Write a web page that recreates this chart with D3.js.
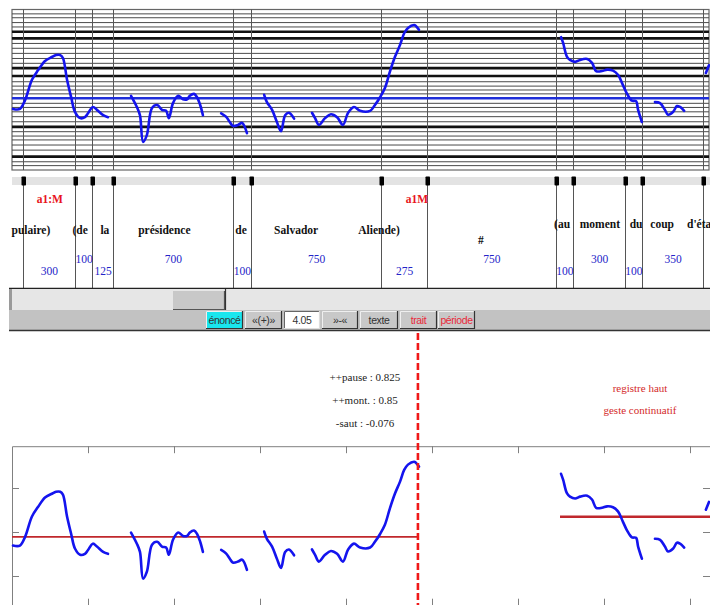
<!DOCTYPE html>
<html>
<head>
<meta charset="utf-8">
<script src="https://cdn.jsdelivr.net/npm/d3@7"></script>
<style>
  html, body { margin: 0; padding: 0; background: #fff; }
  svg { display: block; }
</style>
</head>
<body>
<svg id="chart" width="710" height="605"></svg>
<script>
// ---- data: time in ms from window start, pitch in semitones ----
const timeDomain = [0, 2029];
const pitchDomain = [-15.4, 17.7];

// word boundaries (ms)
const boundaries = [32, 183, 233, 294, 642, 695, 1073, 1206, 1581, 1631, 1782, 1831, 2009];
// durations written between consecutive boundaries
const durations = [300, 100, 125, 700, 100, 750, 275, 750, 100, 300, 100, 350];

// words and their centre times (ms)
const words = ["pulaire)", "(de", "la", "présidence", "de", "Salvador", "Aliende)", "#", "(au", "moment", "du", "coup", "d'état"];
const wordTimes = [55, 198, 270, 443, 666, 826, 1067, 1363, 1599, 1709, 1814, 1890, 2003];

// accent tier labels
const tierLabels = ["a1:M", "a1M"];
const tierTimes = [110, 1177];

// staff lines (semitones) and the heavier ones
const staffLines = [16.8, 16.0, 15.0, 14.1, 13.1, 11.75, 10.7, 9.7, 8.65, 7.6, 6.6, 5.6, 4.0, 2.8, 1.9, 1.1, 0.3,
                    -1.65, -2.5, -3.4, -4.4, -5.45, -6.5, -7.5, -8.4, -9.2, -10.25, -11.3, -12.65, -13.7, -14.5];
const staffThick = [13.1, 11.75, 5.6, 4.0, -6.5, -12.65];
const meanPitch = -0.6;

// pitch contour, one array per voiced stretch: [ms, semitones]
const pitchSegments = [
  [[3,-2.8],[23,-2.8],[38,-1.0],[58,3.2],[76,5.2],[96,7.1],[116,7.9],[128,8.3],[140,8.3],[148,7.7],
   [160,3.2],[172,-0.4],[183,-3.4],[198,-4.7],[212,-4.5],[221,-3.7],[235,-2.4],[247,-3.0],[265,-4.1],[279,-4.5]],
  [[346,-0.1],[363,-2.4],[372,-4.1],[381,-9.6],[392,-8.2],[407,-2.6],[422,-2.0],[436,-3.0],[448,-3.2],
   [456,-4.7],[468,-1.6],[483,-0.1],[497,-0.8],[509,-0.8],[517,-0.1],[529,0.3],[538,-0.4],[547,-2.0],[555,-4.1]],
  [[608,-3.7],[622,-4.4],[634,-5.6],[642,-6.3],[657,-6.1],[669,-5.7],[683,-7.8]],
  [[733,0.1],[741,-1.4],[756,-3.0],[770,-5.5],[782,-7.4],[794,-4.1],[805,-3.6],[820,-4.8]],
  [[872,-3.6],[881,-4.7],[892,-6.1],[910,-4.7],[927,-3.9],[945,-4.5],[962,-6.1],[977,-3.6],[994,-2.4],
   [1012,-3.2],[1041,-3.2],[1055,-2.0],[1070,-0.4],[1084,1.5],[1099,5.0],[1113,7.9],[1128,10.4],
   [1140,12.8],[1151,13.9],[1169,14.5],[1174,14.3],[1183,13.5]],
  [[1596,12.0],[1602,10.8],[1613,8.0],[1622,7.3],[1637,6.9],[1651,7.3],[1672,7.5],[1686,6.7],[1698,5.0],
   [1715,5.0],[1730,5.3],[1747,5.1],[1762,4.2],[1776,2.1],[1788,0.3],[1802,-1.1],[1814,-1.2],[1820,-3.0],[1831,-5.5]],
  [[1869,-1.4],[1884,-1.6],[1898,-3.0],[1907,-4.0],[1922,-3.4],[1933,-2.2],[1942,-2.4],[1954,-3.2]],
  [[2017,4.6],[2026,6.2]]
];

// register levels per phrase
const registerLevels = [-1.0, 3.15];
const registerSpans = [[0, 1180], [1593, 2029]];
const cursorTime = 1180;

// axis ticks of the lower panel
const timeTicks = [220, 470, 720, 970, 1220, 1470, 1720, 1970];
const pitchTicks = [-9, 0, 9];

// annotations
const measures = ["++pause : 0.825", "++mont. :  0.85", "-saut : -0.076"];
const comments = ["registre haut", "geste continuatif"];

// toolbar
const toolButtons = ["énoncé", "«(+)»", "4.05", "»-«", "texte", "trait", "période"];

// ---- drawing ----
const svg = d3.select("#chart");

const x = d3.scaleLinear().domain(timeDomain).range([12, 710]);
const yTop = d3.scaleLinear().domain(pitchDomain).range([170, 9.5]);
const yBot = d3.scaleLinear().domain(pitchDomain).range([606.7, 446.2]);

const serif = "'Liberation Serif', 'Times New Roman', serif";
const sans = "'Liberation Sans', Arial, sans-serif";

// ===== upper panel: pitch on a staff =====
const staffPanel = svg.append("g");
staffPanel.append("rect").attr("x", 12).attr("y", yTop(pitchDomain[1])).attr("width", 697)
  .attr("height", yTop(pitchDomain[0]) - yTop(pitchDomain[1]))
  .attr("fill", "#fff").attr("stroke", "#666").attr("stroke-width", 1.2);

staffPanel.selectAll("line.staff").data(staffLines).join("line")
  .attr("x1", 12).attr("x2", 709)
  .attr("y1", d => yTop(d)).attr("y2", d => yTop(d))
  .attr("stroke", d => staffThick.includes(d) ? "#111" : "#4a4a4a")
  .attr("stroke-width", d => staffThick.includes(d) ? 2.6 : 1);

staffPanel.selectAll("line.bound").data(boundaries).join("line")
  .attr("x1", d => Math.round(x(d)) + 0.5).attr("x2", d => Math.round(x(d)) + 0.5)
  .attr("y1", yTop(pitchDomain[1])).attr("y2", yTop(pitchDomain[0]))
  .attr("stroke", "#555").attr("stroke-width", 1);

staffPanel.append("line").attr("x1", 12).attr("x2", 709)
  .attr("y1", yTop(meanPitch)).attr("y2", yTop(meanPitch))
  .attr("stroke", "#1f2fd8").attr("stroke-width", 2.4);

const lineTop = d3.line().x(d => x(d[0])).y(d => yTop(d[1])).curve(d3.curveCatmullRom.alpha(0.5));
staffPanel.selectAll("path.f0").data(pitchSegments).join("path")
  .attr("d", lineTop).attr("fill", "none")
  .attr("stroke", "#1414ee").attr("stroke-width", 2.6)
  .attr("stroke-linejoin", "round").attr("stroke-linecap", "round");

// ===== boundary strip and text tier =====
svg.append("rect").attr("x", 12).attr("y", 177).attr("width", 698).attr("height", 8).attr("fill", "#e3e3e3");
svg.selectAll("line.tier").data(boundaries).join("line")
  .attr("x1", d => Math.round(x(d)) + 0.5).attr("x2", d => Math.round(x(d)) + 0.5)
  .attr("y1", 177).attr("y2", 288)
  .attr("stroke", "#555").attr("stroke-width", 1);
svg.selectAll("rect.mark").data(boundaries).join("rect")
  .attr("x", d => Math.round(x(d)) - 1.5).attr("y", 176.5).attr("width", 4.5).attr("height", 9)
  .attr("rx", 0.8).attr("fill", "#000");

svg.selectAll("text.tierlab").data(tierLabels).join("text")
  .attr("x", (d, i) => x(tierTimes[i])).attr("y", 203)
  .attr("text-anchor", "middle").attr("font-family", serif).attr("font-weight", "bold")
  .attr("font-size", 11.5).attr("fill", "#e8141c").text(d => d);

svg.selectAll("text.word").data(words).join("text")
  .attr("x", (d, i) => x(wordTimes[i]))
  .attr("y", (d, i) => d === "#" ? 244 : (wordTimes[i] > 1500 ? 228 : 234))
  .attr("text-anchor", "middle").attr("font-family", serif).attr("font-weight", "bold")
  .attr("font-size", 11.5).attr("fill", "#111").text(d => d);

svg.selectAll("text.dur").data(durations).join("text")
  .attr("x", (d, i) => (x(boundaries[i]) + x(boundaries[i + 1])) / 2 + 0.5)
  .attr("y", (d, i) => i % 2 === 0 ? 275 : 263)
  .attr("text-anchor", "middle").attr("font-family", serif)
  .attr("font-size", 11.5).attr("fill", "#2424c8").text(d => d);

// ===== scrollbar =====
svg.append("line").attr("x1", 9).attr("x2", 710).attr("y1", 288.5).attr("y2", 288.5)
  .attr("stroke", "#222").attr("stroke-width", 1.5);
svg.append("rect").attr("x", 9).attr("y", 289).attr("width", 701).attr("height", 21).attr("fill", "#e6e6e6");
svg.append("rect").attr("x", 9).attr("y", 289).attr("width", 3).attr("height", 21).attr("fill", "#9a9a9a");
svg.append("rect").attr("x", 173).attr("y", 291).attr("width", 51).attr("height", 18).attr("fill", "#c8c8c8");
svg.append("path").attr("d", "M173,309.5H224.5V291").attr("fill", "none").attr("stroke", "#555").attr("stroke-width", 1.2);
svg.append("line").attr("x1", 225.5).attr("x2", 225.5).attr("y1", 289).attr("y2", 310)
  .attr("stroke", "#333").attr("stroke-width", 1.2);

// ===== toolbar =====
svg.append("rect").attr("x", 9).attr("y", 310).attr("width", 701).attr("height", 20).attr("fill", "#c2c2c2");
svg.append("line").attr("x1", 9).attr("x2", 710).attr("y1", 330.5).attr("y2", 330.5)
  .attr("stroke", "#333").attr("stroke-width", 1.5);

const btnX = [206, 245, 284, 322, 360, 400, 438];
const btnW = [37, 37, 36, 36, 38, 37, 37];
const btn = svg.selectAll("g.btn").data(toolButtons).join("g")
  .attr("transform", (d, i) => `translate(${btnX[i]},311)`);
btn.append("rect").attr("width", (d, i) => btnW[i]).attr("height", 17)
  .attr("fill", (d, i) => i === 0 ? "#19e6ee" : (i === 2 ? "#fff" : "#c8c8c8"));
btn.append("path")
  .attr("d", (d, i) => `M0.5,17V0.5H${btnW[i]}`)
  .attr("fill", "none").attr("stroke", (d, i) => i === 2 ? "#666" : "#efefef").attr("stroke-width", 1);
btn.append("path")
  .attr("d", (d, i) => `M0,17.5H${btnW[i] - 0.5}V0`)
  .attr("fill", "none").attr("stroke", (d, i) => i === 2 ? "#ddd" : "#333").attr("stroke-width", 1.2);
btn.append("text")
  .attr("x", (d, i) => btnW[i] / 2).attr("y", 12.5)
  .attr("text-anchor", "middle").attr("font-family", sans).attr("font-size", 10.5)
  .attr("letter-spacing", -0.4)
  .attr("fill", (d, i) => i >= 5 ? "#e8283a" : "#333").text(d => d);

// ===== lower panel: stylised contour =====
const contourPanel = svg.append("g");
contourPanel.append("path").attr("d", `M12.5,${yBot(pitchDomain[0])}V${yBot(pitchDomain[1]) + 0.5}H710`)
  .attr("fill", "none").attr("stroke", "#808080").attr("stroke-width", 1);
contourPanel.append("line").attr("x1", 12).attr("x2", 710)
  .attr("y1", yBot(pitchDomain[0]) - 0.5).attr("y2", yBot(pitchDomain[0]) - 0.5)
  .attr("stroke", "#808080");

contourPanel.selectAll("line.tt").data(timeTicks).join("line")
  .attr("x1", d => Math.round(x(d)) + 0.5).attr("x2", d => Math.round(x(d)) + 0.5)
  .attr("y1", yBot(pitchDomain[1])).attr("y2", yBot(pitchDomain[1]) + 7)
  .attr("stroke", "#808080");
contourPanel.selectAll("line.tb").data(timeTicks).join("line")
  .attr("x1", d => Math.round(x(d)) + 0.5).attr("x2", d => Math.round(x(d)) + 0.5)
  .attr("y1", yBot(pitchDomain[0]) - 8).attr("y2", yBot(pitchDomain[0]))
  .attr("stroke", "#808080");
contourPanel.selectAll("line.pl").data(pitchTicks).join("line")
  .attr("x1", 12).attr("x2", 19)
  .attr("y1", d => Math.round(yBot(d)) + 0.5).attr("y2", d => Math.round(yBot(d)) + 0.5)
  .attr("stroke", "#808080");
contourPanel.selectAll("line.pr").data(pitchTicks).join("line")
  .attr("x1", 703).attr("x2", 710)
  .attr("y1", d => Math.round(yBot(d)) + 0.5).attr("y2", d => Math.round(yBot(d)) + 0.5)
  .attr("stroke", "#808080");

contourPanel.selectAll("line.reg").data(registerLevels).join("line")
  .attr("x1", (d, i) => x(registerSpans[i][0])).attr("x2", (d, i) => x(registerSpans[i][1]))
  .attr("y1", d => yBot(d)).attr("y2", d => yBot(d))
  .attr("stroke", "#c0282c").attr("stroke-width", (d, i) => i === 0 ? 1.6 : 2.4);

const lineBot = d3.line().x(d => x(d[0])).y(d => yBot(d[1])).curve(d3.curveCatmullRom.alpha(0.5));
contourPanel.selectAll("path.f0").data(pitchSegments).join("path")
  .attr("d", lineBot).attr("fill", "none")
  .attr("stroke", "#1414ee").attr("stroke-width", 2.6)
  .attr("stroke-linejoin", "round").attr("stroke-linecap", "round");

// cursor
svg.append("line").attr("x1", x(cursorTime)).attr("x2", x(cursorTime))
  .attr("y1", 333).attr("y2", 605)
  .attr("stroke", "#f01818").attr("stroke-width", 2.6).attr("stroke-dasharray", "7,3");

svg.selectAll("text.meas").data(measures).join("text")
  .attr("x", 365).attr("y", (d, i) => 381 + i * 23)
  .attr("text-anchor", "middle").attr("font-family", serif).attr("font-size", 11)
  .attr("fill", "#222").text(d => d);

svg.selectAll("text.comm").data(comments).join("text")
  .attr("x", 640).attr("y", (d, i) => 392 + i * 22)
  .attr("text-anchor", "middle").attr("font-family", serif).attr("font-size", 11)
  .attr("fill", "#d42a2a").text(d => d);
</script>
</body>
</html>
